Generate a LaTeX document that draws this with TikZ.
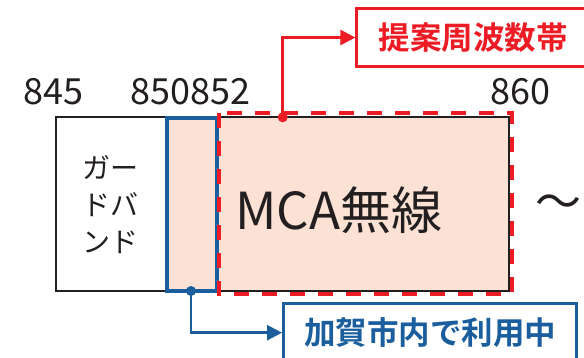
\documentclass[tikz,border=0pt]{standalone}
\usepackage{fontspec}
\usetikzlibrary{arrows.meta}
\newfontfamily\jp{Noto Sans CJK JP}
\newfontfamily\jpb{Noto Sans CJK JP Bold}
\definecolor{myred}{HTML}{ED1C24}
\definecolor{myblue}{HTML}{1B5E9E}
\definecolor{peach}{HTML}{FBE2D5}
\definecolor{ink}{HTML}{231F20}
\tikzset{
  numlbl/.style={anchor=base west, inner sep=0pt, text=ink, font=\jp\fontsize{36}{36}\selectfont},
  callout/.style={line width=2.5pt, -{Triangle[length=15pt,width=15pt]}},
  lblbox/.style={draw, line width=2.5pt, fill=white, inner sep=0pt, font=\jpb\fontsize{31.5}{31.5}\selectfont},
}
\begin{document}
\begin{tikzpicture}[x=1pt,y=-1pt]
\useasboundingbox (0,0) rectangle (584,357);
% fill
\fill[peach] (166.7,117.3) rectangle (509,290.7);
% outer black band
\draw[ink, line width=2pt] (56,117.3) rectangle (509,290.7);
% blue band
\draw[myblue, line width=4pt] (166.7,117.5) rectangle (216.7,290.7);
% red dashed band
\draw[myred, line width=4pt, dash pattern=on 15pt off 13pt] (218.5,113.3) rectangle (511.7,293.8);
% texts
\node[numlbl] (n845) at (23,104) {845};
\node[numlbl] (n850) at (130,104) {850852};
\node[numlbl] (n860) at (490,104) {860};
\node[text=ink, align=center, inner sep=0pt, font=\jp\fontsize{28}{37}\selectfont] (gb) at (110,205) {ガー\\ドバ\\ンド};
\node[text=ink, inner sep=0pt, font=\jp\fontsize{51}{51}\selectfont] (mca) at (339,210) {MCA無線};
\node[text=ink, inner sep=0pt, font=\jp\fontsize{46}{46}\selectfont] (tilde) at (558,207) {〜};
% label boxes
\node[lblbox, draw=myred, text=myred, minimum width=233.3pt, minimum height=58.4pt] (prop) at (473.3,37.5) {提案周波数帯};
\node[lblbox, draw=myblue, text=myblue, minimum width=293.4pt, minimum height=58.8pt] (kaga) at (430,332.7) {加賀市内で利用中};
% connectors
\coordinate (rdot) at (282.7,117.3);
\coordinate (bdot) at (191,291);
\fill[myred] (rdot) circle (5pt);
\fill[myblue] (bdot) circle (5pt);
\draw[myred, callout] (rdot) |- (prop.west);
\draw[myblue, callout] (bdot) |- (kaga.west);
\end{tikzpicture}
\end{document}
